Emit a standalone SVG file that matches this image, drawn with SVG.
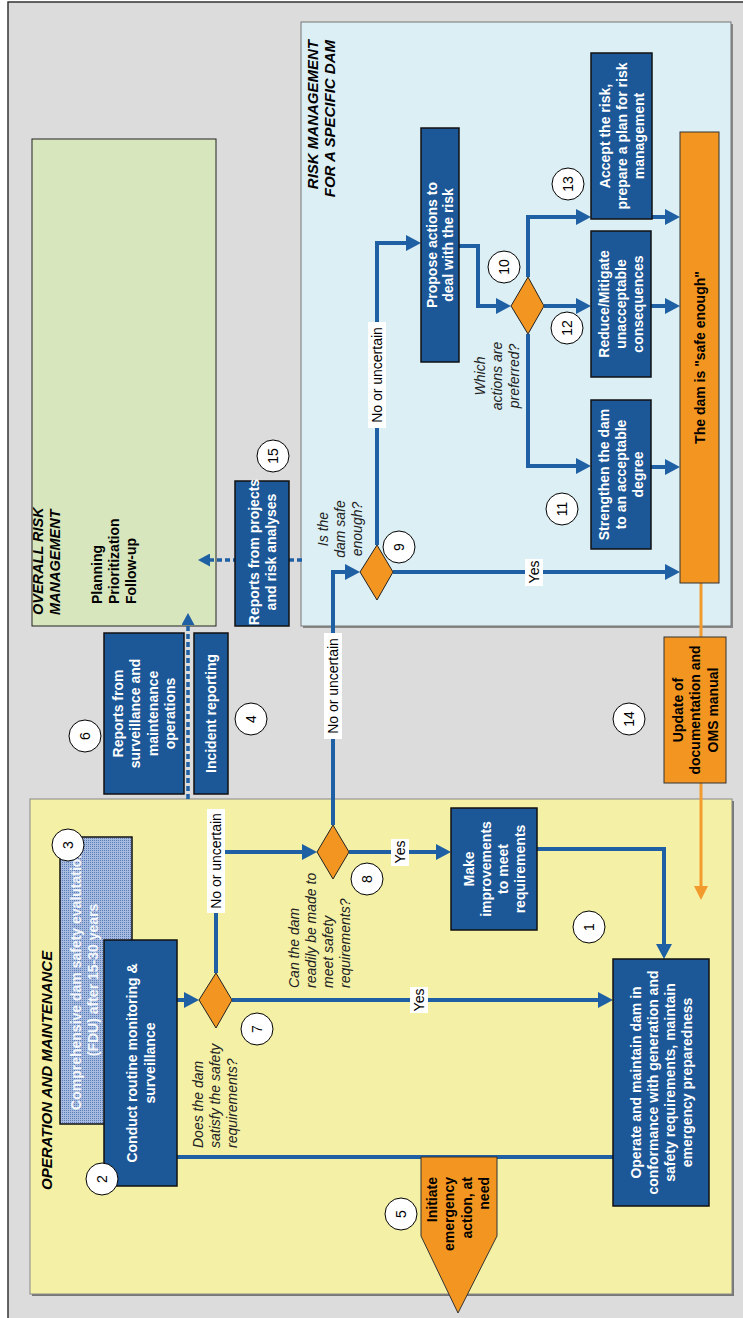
<svg xmlns="http://www.w3.org/2000/svg" width="743" height="1318" viewBox="0 0 743 1318">
<style>
.bt{font-family:"Liberation Sans",Arial,sans-serif;font-weight:bold;font-size:14px;fill:#fff;text-anchor:middle}
.ot{font-family:"Liberation Sans",Arial,sans-serif;font-weight:bold;font-size:14px;fill:#000;text-anchor:middle}
.q{font-family:"Liberation Sans",Arial,sans-serif;font-style:italic;font-size:14px;fill:#222}
.h{font-family:"Liberation Sans",Arial,sans-serif;font-style:italic;font-weight:bold;font-size:15px;fill:#000}
.num{font-family:"Liberation Sans",Arial,sans-serif;font-size:14px;fill:#000;text-anchor:middle}
.lbl{font-family:"Liberation Sans",Arial,sans-serif;font-size:14px;fill:#000;text-anchor:middle}
.box{fill:#1c5797;stroke:#111;stroke-width:1.5}
.dia{fill:#f39621;stroke:#222;stroke-width:1}
.org{fill:#f39621;stroke:#333;stroke-width:1}
.circ{fill:#fff;stroke:#000;stroke-width:1}
.ln{fill:none;stroke:#1f5fa3;stroke-width:4}
.dot{fill:none;stroke:#1f5fa3;stroke-width:3.5;stroke-dasharray:5 3}
.oln{fill:none;stroke:#f39a2c;stroke-width:3}
.lb{fill:#fff}
</style>
<defs>
<marker id="ab" markerUnits="userSpaceOnUse" markerWidth="15" markerHeight="16" refX="7" refY="8" orient="auto"><path d="M0,0 L15,8 L0,16 z" fill="#1f5fa3"/></marker>
<marker id="ad" markerUnits="userSpaceOnUse" markerWidth="12" markerHeight="13" refX="4" refY="6.5" orient="auto"><path d="M0,0 L12,6.5 L0,13 z" fill="#1f5fa3"/></marker>
<marker id="ao" markerUnits="userSpaceOnUse" markerWidth="14" markerHeight="14" refX="6" refY="7" orient="auto"><path d="M0,0 L14,7 L0,14 z" fill="#f39a2c"/></marker>
<pattern id="hatch" width="2" height="2" patternUnits="userSpaceOnUse"><rect width="2" height="2" fill="#a6bbdf"/><rect width="1" height="1" fill="#5b7db6"/></pattern>
</defs>

<g id="background">
<rect x="8" y="2" width="800" height="1400" fill="#dcdcdc" stroke="#333" stroke-width="1.5"/>
<rect x="32" y="139" width="184" height="487" fill="#d8e6bd" stroke="#222" stroke-width="1"/>
<rect x="303" y="24" width="430" height="604" fill="#888"/>
<rect x="301" y="22" width="430" height="604" fill="#dbeff4" stroke="#777" stroke-width="1"/>
<rect x="32" y="801" width="702" height="495" fill="#777"/>
<rect x="30" y="799" width="702" height="495" fill="#f4f1a7" stroke="#888" stroke-width="1"/>
<text class="h" transform="translate(0,40) rotate(-90)" text-anchor="end"><tspan x="0" y="318">RISK MANAGEMENT</tspan><tspan x="0" y="335">FOR A SPECIFIC DAM</tspan></text>
<text class="h" style="font-size:14.5px" transform="translate(0,615) rotate(-90)"><tspan x="0" y="43">OVERALL RISK</tspan><tspan x="0" y="60">MANAGEMENT</tspan></text>
<text class="h" transform="translate(0,1190) rotate(-90)"><tspan x="0" y="52">OPERATION AND MAINTENANCE</tspan></text>
<text class="ot" style="text-anchor:start" transform="translate(0,604) rotate(-90)"><tspan x="0" y="102">Planning</tspan><tspan x="0" y="119">Prioritization</tspan><tspan x="0" y="136">Follow-up</tspan></text>
</g>

<g id="connectors">
<path class="ln" d="M177,1157 L613,1157"/>
<path class="ln" d="M177,1000 L191,1000" marker-end="url(#ab)"/>
<path class="ln" d="M232,1000 L605,1000" marker-end="url(#ab)"/>
<path class="ln" d="M216,973 L216,852 L309,852" marker-end="url(#ab)"/>
<path class="ln" d="M349,852 L443,852" marker-end="url(#ab)"/>
<path class="ln" d="M537,849 L664,849 L664,951" marker-end="url(#ab)"/>
<path class="ln" d="M333,825 L333,572 L352,572" marker-end="url(#ab)"/>
<path class="ln" d="M393,572 L672,572" marker-end="url(#ab)"/>
<path class="ln" d="M377,545 L377,243 L413,243" marker-end="url(#ab)"/>
<path class="ln" d="M459,246 L478,246 L478,306 L503,306" marker-end="url(#ab)"/>
<path class="ln" d="M528,277 L528,217 L583,217" marker-end="url(#ab)"/>
<path class="ln" d="M544,306 L583,306" marker-end="url(#ab)"/>
<path class="ln" d="M528,334 L528,466 L583,466" marker-end="url(#ab)"/>
<path class="ln" d="M652,217 L672,217" marker-end="url(#ab)"/>
<path class="ln" d="M651,306 L672,306" marker-end="url(#ab)"/>
<path class="ln" d="M651,467 L672,467" marker-end="url(#ab)"/>
<path class="dot" d="M188,799 L188,621" marker-end="url(#ad)"/>
<path class="dot" d="M302,560 L206,560" marker-end="url(#ad)"/>
<path class="oln" d="M701,583 L701,637"/>
<path class="oln" d="M701,783 L701,892" marker-end="url(#ao)"/>
<rect class="lb" x="207" y="809" width="18" height="104"/>
<text class="lbl" transform="translate(0,861) rotate(-90)" x="0" y="221">No or uncertain</text>
<rect class="lb" x="324" y="633" width="18" height="106"/>
<text class="lbl" transform="translate(0,686) rotate(-90)" x="0" y="338">No or uncertain</text>
<rect class="lb" x="368" y="322" width="18" height="106"/>
<text class="lbl" transform="translate(0,375) rotate(-90)" x="0" y="382">No or uncertain</text>
<rect class="lb" x="410" y="987" width="18" height="26"/>
<text class="lbl" transform="translate(0,1000) rotate(-90)" x="0" y="424">Yes</text>
<rect class="lb" x="391" y="839" width="18" height="27"/>
<text class="lbl" transform="translate(0,852) rotate(-90)" x="0" y="405">Yes</text>
<rect class="lb" x="525" y="559" width="18" height="27"/>
<text class="lbl" transform="translate(0,572) rotate(-90)" x="0" y="539">Yes</text>
<text class="q" text-anchor="middle" transform="translate(0,529) rotate(-90)"><tspan x="0" y="328">Is the</tspan><tspan x="0" y="345">dam safe</tspan><tspan x="0" y="362">enough?</tspan></text>
<text class="q" text-anchor="middle" transform="translate(0,376) rotate(-90)"><tspan x="0" y="485">Which</tspan><tspan x="0" y="502">actions are</tspan><tspan x="0" y="519">preferred?</tspan></text>
<text class="q" transform="translate(0,1148) rotate(-90)"><tspan x="0" y="203">Does the dam</tspan><tspan x="0" y="220">satisfy the safety</tspan><tspan x="0" y="237">requirements?</tspan></text>
<text class="q" transform="translate(0,988) rotate(-90)"><tspan x="0" y="299">Can the dam</tspan><tspan x="0" y="316">readily be made to</tspan><tspan x="0" y="333">meet safety</tspan><tspan x="0" y="350">requirements?</tspan></text>
</g>

<g id="n-propose"><rect class="box" x="421" y="128" width="38" height="234"/>
<text class="bt" transform="translate(440,245) rotate(-90)"><tspan x="0" y="-3">Propose actions to</tspan><tspan x="0" y="13">deal with the risk</tspan></text></g>
<g id="n-accept"><rect class="box" x="591" y="53" width="61" height="166"/>
<text class="bt" transform="translate(621.5,136) rotate(-90)"><tspan x="0" y="-12">Accept the risk,</tspan><tspan x="0" y="5">prepare a plan for risk</tspan><tspan x="0" y="22">management</tspan></text></g>
<g id="n-reduce"><rect class="box" x="591" y="231" width="60" height="146"/>
<text class="bt" transform="translate(621,304) rotate(-90)"><tspan x="0" y="-12">Reduce/Mitigate</tspan><tspan x="0" y="5">unacceptable</tspan><tspan x="0" y="22">consequences</tspan></text></g>
<g id="n-strengthen"><rect class="box" x="591" y="400" width="60" height="149"/>
<text class="bt" transform="translate(621,474.5) rotate(-90)"><tspan x="0" y="-12">Strengthen the dam</tspan><tspan x="0" y="5">to an acceptable</tspan><tspan x="0" y="22">degree</tspan></text></g>
<g id="n-safe"><rect class="org" x="680" y="132" width="39" height="451"/>
<text class="ot" transform="translate(699.5,357.5) rotate(-90)" x="0" y="5">The dam is "safe enough"</text></g>
<g id="n-reports-projects"><rect class="box" x="235" y="481" width="54" height="145"/>
<text class="bt" transform="translate(262,552) rotate(-90)"><tspan x="0" y="-3.5">Reports from projects</tspan><tspan x="0" y="13.5">and risk analyses</tspan></text></g>
<g id="n-reports-surv"><rect class="box" x="104" y="633" width="80" height="161"/>
<text class="bt" transform="translate(144,713.5) rotate(-90)"><tspan x="0" y="-21.25">Reports from</tspan><tspan x="0" y="-3.75">surveillance and</tspan><tspan x="0" y="13.75">maintenance</tspan><tspan x="0" y="31.25">operations</tspan></text></g>
<g id="n-incident"><rect class="box" x="194" y="633" width="34" height="161"/>
<text class="bt" transform="translate(211,713.5) rotate(-90)" x="0" y="5">Incident reporting</text></g>
<g id="n-update"><rect class="org" x="664" y="637" width="62" height="146"/>
<text class="ot" transform="translate(695,710) rotate(-90)"><tspan x="0" y="-12.5">Update of</tspan><tspan x="0" y="5">documentation and</tspan><tspan x="0" y="22.5">OMS manual</tspan></text></g>
<g id="n-fdu"><rect x="60" y="837" width="72" height="287" fill="url(#hatch)" stroke="#111" stroke-width="1.5"/>
<text class="bt" style="fill:#f4f7fc" transform="translate(84,980) rotate(-90)"><tspan x="0" y="-3.5">Comprehensive dam safety evalutation</tspan><tspan x="0" y="13.5">(FDU) after 15-30 years</tspan></text></g>
<g id="n-conduct"><rect class="box" x="104" y="940" width="73" height="246"/>
<text class="bt" transform="translate(140.5,1063) rotate(-90)"><tspan x="0" y="-4">Conduct routine monitoring &amp;</tspan><tspan x="0" y="14">surveillance</tspan></text></g>
<g id="n-make"><rect class="box" x="451" y="808" width="86" height="122"/>
<text class="bt" transform="translate(494,869) rotate(-90)"><tspan x="0" y="-20.5">Make</tspan><tspan x="0" y="-3.5">improvements</tspan><tspan x="0" y="13.5">to meet</tspan><tspan x="0" y="30.5">requirements</tspan></text></g>
<g id="n-operate"><rect class="box" x="613" y="959" width="96" height="247"/>
<text class="bt" transform="translate(661,1082.5) rotate(-90)"><tspan x="0" y="-20.5">Operate and maintain dam in</tspan><tspan x="0" y="-3.5">conformance with generation and</tspan><tspan x="0" y="13.5">safety requirements, maintain</tspan><tspan x="0" y="30.5">emergency preparedness</tspan></text></g>
<g id="n-emergency"><path class="org" d="M421,1157 L497,1157 L497,1236 L458,1313 L421,1236 Z"/>
<text class="ot" style="text-anchor:end" transform="translate(458,1177) rotate(-90)"><tspan x="0" y="-21.25">Initiate</tspan><tspan x="0" y="-3.75">emergency</tspan><tspan x="0" y="13.75">action, at</tspan><tspan x="0" y="31.25">need</tspan></text></g>
<g id="d7"><path class="dia" d="M216,973 L232,1000 L216,1028 L199,1000 Z"/></g>
<g id="d8"><path class="dia" d="M333,825 L349,852 L333,879 L317,852 Z"/></g>
<g id="d9"><path class="dia" d="M377,545 L393,572 L377,600 L360,572 Z"/></g>
<g id="d10"><path class="dia" d="M528,277 L544,306 L528,334 L511,306 Z"/></g>

<g id="c1"><circle class="circ" cx="589" cy="927" r="16"/><text class="num" transform="translate(589,927) rotate(-90)" y="5">1</text></g>
<g id="c2"><circle class="circ" cx="102" cy="1179" r="16"/><text class="num" transform="translate(102,1179) rotate(-90)" y="5">2</text></g>
<g id="c3"><circle class="circ" cx="68" cy="845" r="16"/><text class="num" transform="translate(68,845) rotate(-90)" y="5">3</text></g>
<g id="c4"><circle class="circ" cx="251" cy="719" r="16"/><text class="num" transform="translate(251,719) rotate(-90)" y="5">4</text></g>
<g id="c5"><circle class="circ" cx="401" cy="1214" r="16"/><text class="num" transform="translate(401,1214) rotate(-90)" y="5">5</text></g>
<g id="c6"><circle class="circ" cx="85" cy="736" r="16"/><text class="num" transform="translate(85,736) rotate(-90)" y="5">6</text></g>
<g id="c7"><circle class="circ" cx="257" cy="1029" r="16"/><text class="num" transform="translate(257,1029) rotate(-90)" y="5">7</text></g>
<g id="c8"><circle class="circ" cx="367" cy="879" r="16"/><text class="num" transform="translate(367,879) rotate(-90)" y="5">8</text></g>
<g id="c9"><circle class="circ" cx="399" cy="547" r="16"/><text class="num" transform="translate(399,547) rotate(-90)" y="5">9</text></g>
<g id="c10"><circle class="circ" cx="504" cy="267" r="16"/><text class="num" transform="translate(504,267) rotate(-90)" y="5">10</text></g>
<g id="c11"><circle class="circ" cx="562" cy="509" r="16"/><text class="num" transform="translate(562,509) rotate(-90)" y="5">11</text></g>
<g id="c12"><circle class="circ" cx="567" cy="328" r="16"/><text class="num" transform="translate(567,328) rotate(-90)" y="5">12</text></g>
<g id="c13"><circle class="circ" cx="568" cy="184" r="16"/><text class="num" transform="translate(568,184) rotate(-90)" y="5">13</text></g>
<g id="c14"><circle class="circ" cx="629" cy="719" r="16"/><text class="num" transform="translate(629,719) rotate(-90)" y="5">14</text></g>
<g id="c15"><circle class="circ" cx="273" cy="456" r="16"/><text class="num" transform="translate(273,456) rotate(-90)" y="5">15</text></g>
</svg>
